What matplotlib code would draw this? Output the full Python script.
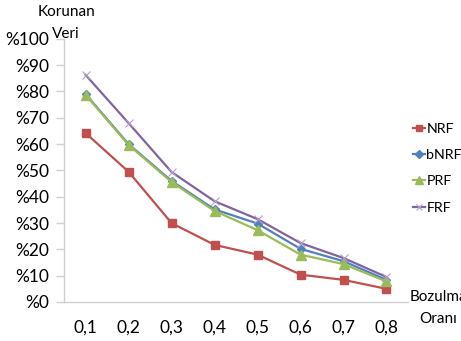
import matplotlib
matplotlib.use('Agg')
import matplotlib.pyplot as plt

# data
oranlar = ['0,1', '0,2', '0,3', '0,4', '0,5', '0,6', '0,7', '0,8']
nrf = [64.2, 49.5, 30.0, 21.7, 18.0, 10.4, 8.4, 5.0]
bnrf = [79.0, 60.0, 46.0, 35.2, 29.8, 20.2, 15.5, 8.4]
prf = [78.7, 59.7, 45.6, 34.6, 27.3, 18.0, 14.4, 7.8]
frf = [86.3, 68.0, 49.4, 38.3, 31.5, 22.4, 16.7, 9.5]
y_ticks = list(range(0, 101, 10))

plt.rcParams['font.family'] = ['Lato', 'DejaVu Sans']

fig = plt.figure(figsize=(4.61, 3.41), dpi=100)
ax = fig.add_axes([0.139, 0.1144, 0.746, 0.7716])

x = list(range(len(oranlar)))
ax.plot(x, nrf, color='#C0504D', marker='s', markersize=6, lw=1.6, label='NRF')
ax.plot(x, bnrf, color='#4F81BD', marker='D', markersize=4.5, lw=1.6, label='bNRF')
ax.plot(x, prf, color='#9BBB59', marker='^', markersize=6.5, lw=1.6, label='PRF')
ax.plot(x, frf, color='#8064A2', marker='x', markersize=6, mew=0.8,
        markeredgecolor='#B3A2C7', lw=1.6, label='FRF')

ax.set_xlim(-0.5, len(oranlar) - 0.5)
ax.set_ylim(0, 100)
ax.set_xticks(x)
ax.set_xticklabels(oranlar)
ax.set_yticks(y_ticks)
ax.set_yticklabels(['%' + str(v) for v in y_ticks])

for side in ['top', 'right']:
    ax.spines[side].set_visible(False)
for side in ['left', 'bottom']:
    ax.spines[side].set_color('#D0D0D0')
    ax.spines[side].set_linewidth(1.0)

ax.tick_params(axis='y', length=6, width=1, color='#D0D0D0', pad=5, labelsize=12.5)
ax.tick_params(axis='x', length=0, pad=13, labelsize=12.5)

fig.text(66 / 461, 1 - 12 / 341, 'Korunan', ha='center', va='center', fontsize=11)
fig.text(66 / 461, 1 - 34 / 341, 'Veri', ha='center', va='center', fontsize=11)
fig.text(410 / 461, 1 - 297 / 341, 'Bozulma', ha='left', va='center', fontsize=11)
fig.text(419 / 461, 1 - 319 / 341, 'Oranı', ha='left', va='center', fontsize=11)

leg = fig.legend(loc='upper left', bbox_to_anchor=(407 / 461, 1 - 117 / 341),
                 frameon=False, fontsize=10.3, handlelength=0.85, handletextpad=0.1,
                 labelspacing=1.0, borderaxespad=0, markerscale=0.8)

fig.savefig('out.png', dpi=100)
